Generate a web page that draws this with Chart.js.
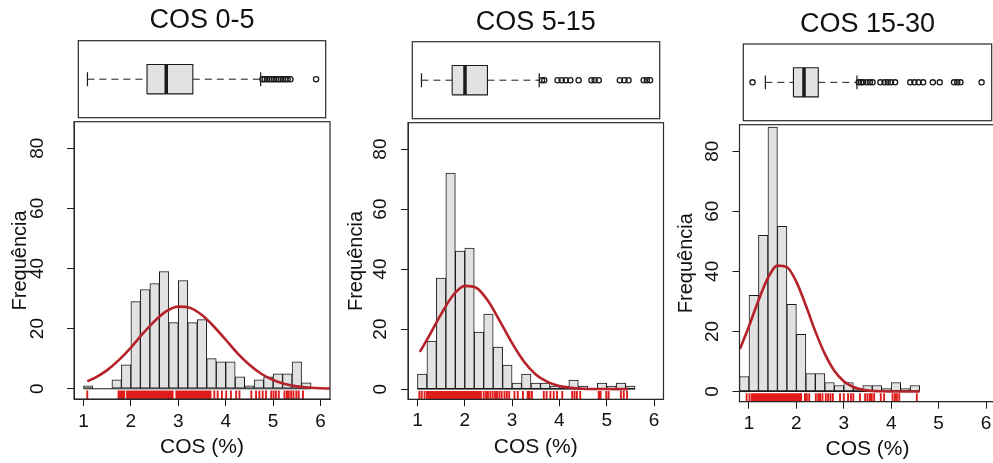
<!DOCTYPE html>
<html>
<head>
<meta charset="utf-8">
<script src="https://cdn.jsdelivr.net/npm/chart.js@4.4.1/dist/chart.umd.min.js"></script>
<style>
    html, body { margin: 0; padding: 0; background: #fff; overflow: hidden; }
    #wrap { position: relative; width: 993px; height: 463px; overflow: hidden; background: #fff; }
    #wrap canvas { position: absolute; }
</style>
</head>
<body>
<div id="wrap"></div>
<script>
const titles = ['COS 0-5', 'COS 5-15', 'COS 15-30'];
const xTicks = [1, 2, 3, 4, 5, 6];
const yTicks = [0, 20, 40, 60, 80];

// histogram bins (left edge, width 0.2) and counts
const bins1 = [1.0, 1.2, 1.4, 1.6, 1.8, 2.0, 2.2, 2.4, 2.6, 2.8, 3.0, 3.2, 3.4, 3.6, 3.8, 4.0, 4.2, 4.4, 4.6, 4.8, 5.0, 5.2, 5.4, 5.6];
const counts1 = [1, 0, 0, 3, 8, 29, 33, 35, 39, 22, 36, 22, 23, 10, 9, 9, 4, 1, 3, 4, 5, 5, 9, 2];
const bins2 = [1.0, 1.2, 1.4, 1.6, 1.8, 2.0, 2.2, 2.4, 2.6, 2.8, 3.0, 3.2, 3.4, 3.6, 3.8, 4.0, 4.2, 4.4, 4.6, 4.8, 5.0, 5.2, 5.4];
const counts2 = [5, 16, 37, 72, 46, 47, 19, 25, 14, 8, 2, 5, 2, 2, 1, 1, 3, 1, 0, 2, 1, 2, 1];
const bins3 = [0.8, 1.0, 1.2, 1.4, 1.6, 1.8, 2.0, 2.2, 2.4, 2.6, 2.8, 3.0, 3.2, 3.4, 3.6, 3.8, 4.0, 4.2, 4.4];
const counts3 = [5, 32, 52, 88, 55, 29, 19, 6, 6, 3, 2, 3, 1, 2, 2, 1, 3, 1, 2];

// red density curves
const curveX1 = [1.08, 1.25, 1.5, 1.75, 2.0, 2.25, 2.5, 2.75, 3.0, 3.25, 3.5, 3.75, 4.0, 4.25, 4.5, 4.75, 5.0, 5.25, 5.5, 5.75, 6.0, 6.2];
const curveY1 = [2.5, 3.7, 6.2, 9.6, 13.7, 18.3, 22.5, 25.8, 27.3, 26.9, 24.5, 20.7, 16.3, 11.8, 8.0, 5.0, 2.9, 1.6, 0.8, 0.4, 0.15, 0.1];
const curveX2 = [1.05, 1.25, 1.5, 1.75, 2.0, 2.25, 2.5, 2.75, 3.0, 3.25, 3.5, 3.75, 4.0, 4.25, 4.5, 4.75, 5.0, 5.45];
const curveY2 = [12.4, 17.8, 25.0, 31.2, 34.4, 33.7, 29.2, 22.4, 15.3, 9.2, 4.9, 2.4, 1.0, 0.4, 0.12, 0.03, 0.01, 0];
const curveX3 = [0.81, 1.0, 1.2, 1.4, 1.6, 1.8, 2.0, 2.2, 2.4, 2.6, 2.8, 3.0, 3.2, 3.4, 3.6, 3.8, 4.0, 4.6];
const curveY3 = [14.2, 21.7, 30.3, 37.8, 41.9, 41.4, 36.5, 28.6, 20.0, 12.5, 6.9, 3.4, 1.5, 0.6, 0.2, 0.06, 0.02, 0];

// rug marks under each histogram
const rug1 = [1.08, 1.74, 1.78, 1.82, 1.86,
    1.92, 1.95, 1.98, 2.01, 2.04, 2.07, 2.10, 2.13, 2.16, 2.19, 2.22, 2.25, 2.28, 2.31, 2.34, 2.37, 2.40, 2.43, 2.46, 2.49,
    2.52, 2.55, 2.58, 2.61, 2.64, 2.67, 2.70, 2.73, 2.76, 2.79, 2.82, 2.85, 2.88, 2.96, 2.99, 3.02, 3.05, 3.08, 3.11, 3.14,
    3.17, 3.20, 3.23, 3.26, 3.29, 3.32, 3.35, 3.38, 3.41, 3.44, 3.47, 3.50, 3.53, 3.56, 3.59, 3.62, 3.65, 3.68,
    3.76, 3.83, 3.92, 4.01, 4.11, 4.22, 4.29, 4.54, 4.64, 4.71, 4.78, 4.85, 4.96, 5.01, 5.06, 5.12,
    5.24, 5.29, 5.33, 5.38, 5.43, 5.49, 5.54, 5.63];
const rug2 = [1.04, 1.09, 1.15, 1.20, 1.24,
    1.27, 1.30, 1.33, 1.36, 1.39, 1.42, 1.45, 1.48, 1.51, 1.54, 1.57, 1.60, 1.63, 1.66, 1.69, 1.72, 1.75, 1.78, 1.81, 1.84,
    1.87, 1.90, 1.93, 1.96, 1.99, 2.02, 2.05, 2.08, 2.11, 2.14, 2.17, 2.20, 2.23,
    2.27, 2.31, 2.34, 2.40, 2.45, 2.49, 2.54, 2.59, 2.64, 2.68, 2.73, 2.78, 2.84, 2.89, 2.94, 3.05, 3.12, 3.23, 3.33, 3.37,
    3.42, 3.67, 3.73, 3.81, 3.88, 3.95, 4.06, 4.27, 4.32, 4.37, 4.44, 4.83, 4.87, 4.99, 5.04, 5.30, 5.36, 5.43];
const rug3 = [0.95, 1.01, 1.06,
    1.08, 1.11, 1.14, 1.17, 1.20, 1.23, 1.26, 1.29, 1.32, 1.35, 1.38, 1.41, 1.44, 1.47, 1.50, 1.53, 1.56, 1.59, 1.62, 1.65,
    1.68, 1.71, 1.74, 1.77, 1.80, 1.83, 1.86, 1.89, 1.92, 1.95, 1.98, 2.01, 2.04, 2.07, 2.10,
    2.18, 2.22, 2.27, 2.41, 2.46, 2.50, 2.55, 2.62, 2.67, 2.72, 2.77, 2.92, 3.00, 3.09, 3.15, 3.20, 3.34, 3.45, 3.50, 3.55,
    3.59, 3.64, 3.78, 3.85, 4.03, 4.08, 4.12, 4.17, 4.54];

// boxplots: lower whisker, Q1, median, Q3, upper whisker, then the outliers
const box1 = [1.0, 2.30, 2.72, 3.30, 4.78];
const out1 = [4.82, 4.87, 4.92, 4.97, 5.02, 5.07, 5.12, 5.17, 5.22, 5.27, 5.32, 5.37, 5.43, 5.99];
const box2 = [1.0, 1.67, 1.95, 2.44, 3.57];
const out2 = [3.63, 3.68, 3.97, 4.06, 4.15, 4.25, 4.43, 4.71, 4.78, 4.87, 5.33, 5.43, 5.52, 5.85, 5.92, 5.99];
const box3 = [1.28, 1.89, 2.12, 2.43, 3.27];
const out3 = [1.0, 3.31, 3.36, 3.40, 3.48, 3.55, 3.61, 3.78, 3.87, 3.94, 4.01, 4.10, 4.43, 4.52, 4.61, 4.71, 4.92, 5.07,
    5.38, 5.45, 5.52, 5.98];

const FONT = "'Liberation Sans', Arial, Helvetica, sans-serif";
const GRAY = '#e2e2e2';
const INK = '#1a1a1a';
const CURVE = '#b5222a';
const RUG = '#e01b1b';
const BOX_H = 0.38;
const CAP_H = 0.18;

Chart.defaults.font.family = FONT;
Chart.defaults.color = '#111';

// where each panel sits on the page
const panels = [
    {
        bins: bins1, counts: counts1, cx: curveX1, cy: curveY1, rug: rug1, box: box1, out: out1,
        top: { left: 73, w: 258, h: 123, pad: { left: 1, right: 1, top: 0, bottom: 1.3 }, tTop: 4.6, tBottom: 3.7 },
        hist: { left: 0, top: 120, w: 340, h: 343, padRight: 10, yWidth: 74, xHeight: 64, tickPad: 4.5, xTitlePad: 3.5, yTitlePad: 8.8, yLabelOff: 36.5 }
    },
    {
        bins: bins2, counts: counts2, cx: curveX2, cy: curveY2, rug: rug2, box: box2, out: out2,
        top: { left: 407, w: 258, h: 124, pad: { left: 1, right: 1.5, top: 0, bottom: 1.3 }, tTop: 6.3, tBottom: 3.0 },
        hist: { left: 340, top: 121, w: 330, h: 342, padRight: 6.5, yWidth: 68, xHeight: 63.7, tickPad: 3.5, xTitlePad: 2.7, yTitlePad: 4.7, yLabelOff: 27.5 }
    },
    {
        bins: bins3, counts: counts3, cx: curveX3, cy: curveY3, rug: rug3, box: box3, out: out3,
        top: { left: 738, w: 259, h: 126, pad: { left: 1.5, right: 1.5, top: 0, bottom: 1.3 }, tTop: 8.0, tBottom: 3.6 },
        hist: { left: 670, top: 123, w: 335, h: 340, padRight: 9.5, yWidth: 69.5, xHeight: 61.3, tickPad: 4, xTitlePad: 1, yTitlePad: 4.7, yLabelOff: 26.7 }
    }
];

const frame = {
    id: 'frame',
    afterDraw(chart) {
        const a = chart.chartArea;
        const ctx = chart.ctx;
        ctx.save();
        ctx.strokeStyle = '#2a2a2a';
        ctx.lineWidth = 1.2;
        ctx.strokeRect(a.left, a.top, a.right - a.left, a.bottom - a.top);
        ctx.restore();
    }
};

// R style y labels, written along the axis
const yLabels = {
    id: 'yLabels',
    afterDraw(chart, args, opts) {
        const s = chart.scales.y;
        const ctx = chart.ctx;
        ctx.save();
        ctx.font = '19px ' + FONT;
        ctx.fillStyle = '#111';
        ctx.textAlign = 'center';
        ctx.textBaseline = 'middle';
        s.ticks.forEach(t => {
            ctx.save();
            ctx.translate(chart.chartArea.left - opts.offset, s.getPixelForValue(t.value));
            ctx.rotate(-Math.PI / 2);
            ctx.fillText(String(t.value), 0, 0);
            ctx.restore();
        });
        ctx.restore();
    }
};

function addCanvas(left, top, w, h) {
    const c = document.createElement('canvas');
    c.width = w;
    c.height = h;
    c.style.left = left + 'px';
    c.style.top = top + 'px';
    c.style.width = w + 'px';
    c.style.height = h + 'px';
    document.getElementById('wrap').appendChild(c);
    return c;
}

function seg(x1, y1, x2, y2, extra) {
    return Object.assign({
        type: 'line',
        data: [{ x: x1, y: y1 }, { x: x2, y: y2 }],
        borderColor: INK,
        borderWidth: 1,
        pointRadius: 0,
        fill: false,
        tension: 0
    }, extra || {});
}

function drawBoxplot(p, title) {
    const L = p.top;
    const [lo, q1, med, q3, hi] = p.box;
    const c = addCanvas(L.left, 0, L.w, L.h);
    // first dataset ends up on top
    const datasets = [
        seg(med, -BOX_H, med, BOX_H, { borderWidth: 3.5 }),
        {
            type: 'line',
            data: [{ x: q1, y: -BOX_H }, { x: q1, y: BOX_H }, { x: q3, y: BOX_H }, { x: q3, y: -BOX_H }, { x: q1, y: -BOX_H }],
            fill: 'shape',
            backgroundColor: GRAY,
            borderColor: INK,
            borderWidth: 1.1,
            pointRadius: 0,
            tension: 0
        },
        seg(lo, -CAP_H, lo, CAP_H, { borderWidth: 1.2 }),
        seg(hi, -CAP_H, hi, CAP_H, { borderWidth: 1.2 }),
        seg(lo, 0, q1, 0, { borderDash: [7, 5] }),
        seg(q3, 0, hi, 0, { borderDash: [7, 5] }),
        {
            type: 'scatter',
            data: p.out.map(v => ({ x: v, y: 0 })),
            pointStyle: 'circle',
            pointRadius: 2.6,
            pointBorderColor: INK,
            pointBorderWidth: 1.3,
            pointBackgroundColor: 'rgba(255,255,255,0)'
        }
    ];
    new Chart(c, {
        type: 'scatter',
        data: { datasets: datasets },
        options: {
            responsive: false,
            animation: false,
            events: [],
            layout: { padding: L.pad },
            plugins: {
                legend: { display: false },
                tooltip: { enabled: false },
                title: {
                    display: true,
                    text: title,
                    color: '#111',
                    font: { size: 27, weight: 'normal' },
                    padding: { top: L.tTop, bottom: L.tBottom }
                }
            },
            scales: {
                x: { type: 'linear', min: 0.8, max: 6.2, display: false },
                y: { type: 'linear', min: -1, max: 1, display: false }
            }
        },
        plugins: [frame]
    });
}

function drawHistogram(p) {
    const L = p.hist;
    const c = addCanvas(L.left, L.top, L.w, L.h);
    const yMin = -3.4;
    const yMax = 88.8;
    const lastEdge = p.bins[p.bins.length - 1] + 0.2;
    // each rug mark is a short vertical stroke, broken by a null point
    const rugData = p.rug.flatMap(v => [{ x: v, y: yMin }, { x: v, y: yMin + 2.8 }, { x: v, y: null }]);
    new Chart(c, {
        type: 'bar',
        data: {
            datasets: [
                {
                    type: 'line',
                    data: p.cx.map((x, i) => ({ x: x, y: p.cy[i] })),
                    borderColor: CURVE,
                    borderWidth: 2.6,
                    pointRadius: 0,
                    tension: 0.4,
                    cubicInterpolationMode: 'monotone',
                    fill: false
                },
                {
                    type: 'line',
                    data: rugData,
                    borderColor: RUG,
                    borderWidth: 1.9,
                    pointRadius: 0,
                    spanGaps: false,
                    tension: 0,
                    fill: false
                },
                seg(p.bins[0], 0, lastEdge, 0),
                {
                    type: 'bar',
                    data: p.bins.map((b, i) => ({ x: b + 0.1, y: p.counts[i] })),
                    backgroundColor: GRAY,
                    borderColor: INK,
                    borderWidth: 1,
                    borderSkipped: false,
                    barPercentage: 1,
                    categoryPercentage: 1
                }
            ]
        },
        options: {
            responsive: false,
            animation: false,
            events: [],
            layout: { padding: { top: 1.7, right: L.padRight, left: 0, bottom: 0 } },
            plugins: {
                legend: { display: false },
                tooltip: { enabled: false },
                yLabels: { offset: L.yLabelOff }
            },
            scales: {
                x: {
                    type: 'linear',
                    min: 0.8,
                    max: 6.2,
                    offset: false,
                    afterBuildTicks: s => { s.ticks = xTicks.map(v => ({ value: v })); },
                    afterFit: s => { s.height = L.xHeight; },
                    grid: { drawOnChartArea: false, drawTicks: true, tickLength: 7, color: INK, offset: false },
                    border: { display: true, color: '#2a2a2a' },
                    ticks: { font: { size: 19 }, color: '#111', padding: L.tickPad, maxRotation: 0 },
                    title: { display: true, text: 'COS (%)', font: { size: 21 }, color: '#111', padding: { top: 0, bottom: L.xTitlePad } }
                },
                y: {
                    type: 'linear',
                    min: yMin,
                    max: yMax,
                    afterBuildTicks: s => { s.ticks = yTicks.map(v => ({ value: v })); },
                    afterFit: s => { s.width = L.yWidth; },
                    grid: { drawOnChartArea: false, drawTicks: true, tickLength: 7, color: INK },
                    border: { display: true, color: '#2a2a2a' },
                    ticks: { display: false },
                    title: { display: true, text: 'Frequência', font: { size: 20 }, color: '#111', padding: { top: L.yTitlePad, bottom: 0 } }
                }
            }
        },
        plugins: [frame, yLabels]
    });
}

panels.forEach((p, i) => {
    drawHistogram(p);
    drawBoxplot(p, titles[i]);
});
</script>
</body>
</html>
